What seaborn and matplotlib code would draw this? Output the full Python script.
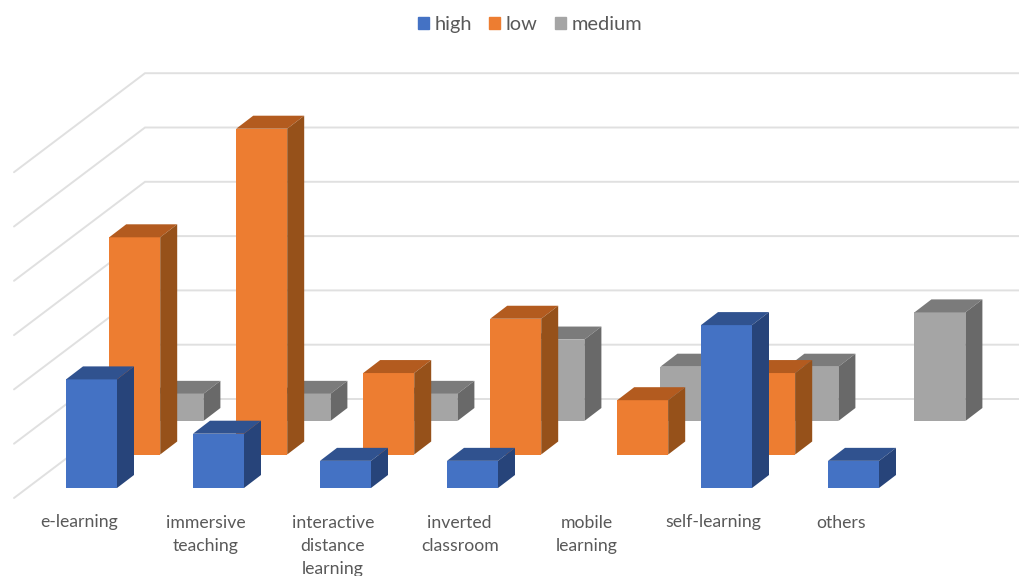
import matplotlib
matplotlib.use("Agg")
import matplotlib.pyplot as plt
from matplotlib.patches import Patch
import numpy as np
import seaborn as sns

categories = ["e-learning", "immersive\nteaching", "interactive\ndistance\nlearning",
              "inverted\nclassroom", "mobile\nlearning", "self-learning", "others"]
high = [4, 2, 1, 1, 0, 6, 1]
low = [8, 12, 3, 5, 2, 3, 0]
medium = [1, 1, 1, 3, 2, 2, 4]
series_names = ["high", "low", "medium"]
series_values = [high, low, medium]
gridlevels = [0, 2, 4, 6, 8, 10, 12]

FACE = ["#4472C4", "#ED7D31", "#A5A5A5"]
TOP = ["#30528F", "#B35B1F", "#7B7B7B"]
SIDE = ["#27447A", "#96511A", "#696969"]
TEXT = "#595959"

W, H = 1019, 576
sns.set_theme(style="white")
plt.rcParams["font.family"] = ["Lato", "DejaVu Sans"]

# oblique projection: category step, series step, bar depth, value scale (figure pixels)
X0, STEP = 66.0, 127.0
SER_DX, SER_DY = 43.2, 33.5
BASE = H - 488.0
BAR_W = 51.0
DEPTH_X, DEPTH_Y = 17.0, 13.0
UNIT = 27.15
WALL_X, WALL_Y = 145.0, H - 399.0
WALL_DX, WALL_DY = -131.0, -99.0

fig = plt.figure(figsize=(W / 100, H / 100), dpi=100)
ax = fig.add_axes([0, 0, 1, 1])

for v in gridlevels:
    gy = WALL_Y + v * UNIT
    ax.plot([WALL_X + WALL_DX, WALL_X, W], [gy + WALL_DY, gy, gy],
            color="#E0E0E0", lw=1.4, zorder=1, solid_joinstyle="miter")

for s in [2, 1, 0]:
    vals = np.array(series_values[s], dtype=float)
    keep = vals > 0
    lefts = X0 + np.arange(len(vals)) * STEP + s * SER_DX
    base = BASE + s * SER_DY
    heights = vals * UNIT
    z = 5 - s
    sns.barplot(x=(lefts + BAR_W / 2)[keep], y=heights[keep], bottom=base,
                native_scale=True, width=BAR_W / STEP, color=FACE[s], saturation=1,
                errorbar=None, linewidth=0, zorder=z, ax=ax, legend=False)
    for l, h, k in zip(lefts, heights, keep):
        if not k:
            continue
        r, t = l + BAR_W, base + h
        ax.fill([l, r, r + DEPTH_X, l + DEPTH_X],
                [t, t, t + DEPTH_Y, t + DEPTH_Y], color=TOP[s], lw=0, zorder=z)
        ax.fill([r, r + DEPTH_X, r + DEPTH_X, r],
                [base, base + DEPTH_Y, t + DEPTH_Y, t], color=SIDE[s], lw=0, zorder=z)

for i, c in enumerate(categories):
    ax.text(X0 + 12.7 + i * STEP, H - 514.5, c, ha="center", va="top", fontsize=12.7,
            color=TEXT, linespacing=1.54)

ax.set_xlim(0, W)
ax.set_ylim(0, H)
ax.axis("off")

handles = [Patch(color=c, label=n) for c, n in zip(FACE, series_names)]
fig.legend(handles=handles, loc="center", bbox_to_anchor=(530 / W, 1 - 24.5 / H), ncol=3,
           frameon=False, fontsize=14.4, handlelength=0.54, handleheight=0.54,
           handletextpad=0.3, columnspacing=0.85, labelcolor=TEXT)

fig.savefig("out.png", dpi=100)
